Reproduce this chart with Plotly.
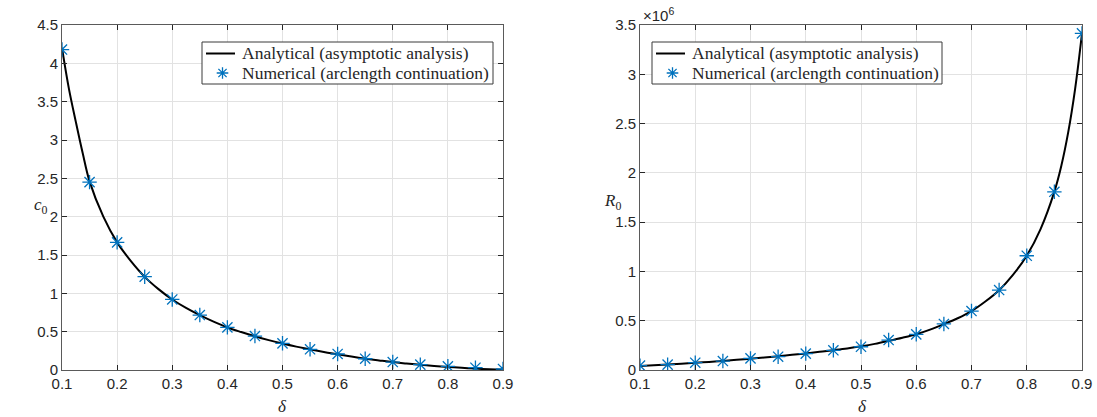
import plotly.graph_objects as go

# ---------------- data ----------------
delta_num = [0.10, 0.15, 0.20, 0.25, 0.30, 0.35, 0.40, 0.45, 0.50,
             0.55, 0.60, 0.65, 0.70, 0.75, 0.80, 0.85, 0.90]
c0_num = [4.18, 2.45, 1.665, 1.217, 0.92, 0.717, 0.556, 0.443, 0.348,
          0.27, 0.209, 0.147, 0.104, 0.07, 0.048, 0.03, 0.013]
R0_num = [44000, 54000, 74000, 91000, 118000, 135000, 166000, 200000, 236000,
          304000, 362000, 467000, 598000, 811000, 1159000, 1808000, 3415000]

delta_c0_curve = [0.1, 0.1125, 0.125, 0.1375, 0.15, 0.175, 0.2, 0.225, 0.25, 0.275,
                  0.3, 0.325, 0.35, 0.375, 0.4, 0.425, 0.45, 0.475, 0.5, 0.525,
                  0.55, 0.575, 0.6, 0.625, 0.65, 0.675, 0.7, 0.725, 0.75, 0.775,
                  0.8, 0.825, 0.85, 0.875, 0.9]
c0_curve = [4.2, 3.67, 3.24, 2.83, 2.46, 2.0, 1.665, 1.42, 1.215, 1.055,
            0.92, 0.81, 0.715, 0.63, 0.555, 0.495, 0.44, 0.39, 0.345, 0.305,
            0.27, 0.235, 0.205, 0.175, 0.148, 0.125, 0.103, 0.085, 0.068, 0.053,
            0.04, 0.028, 0.018, 0.009, 0.002]

delta_R0_curve = [0.1, 0.125, 0.15, 0.175, 0.2, 0.225, 0.25, 0.275, 0.3, 0.325,
                  0.35, 0.375, 0.4, 0.425, 0.45, 0.475, 0.5, 0.525, 0.55, 0.575,
                  0.6, 0.625, 0.65, 0.675, 0.7, 0.725, 0.75, 0.775, 0.8, 0.825,
                  0.85, 0.8625, 0.875, 0.8875, 0.9]
R0_curve = [40000, 48000, 55000, 64000, 73000, 82000, 92000, 103000, 115000, 127000,
            140000, 154000, 168000, 184000, 201000, 219000, 240000, 265000, 295000, 327000,
            363000, 410000, 465000, 525000, 598000, 695000, 810000, 965000, 1160000, 1430000,
            1810000, 2070000, 2410000, 2850000, 3415000]

x_ticks = [0.1, 0.2, 0.3, 0.4, 0.5, 0.6, 0.7, 0.8, 0.9]
x_ticktext = ["0.1", "0.2", "0.3", "0.4", "0.5", "0.6", "0.7", "0.8", "0.9"]
c0_ticks = [0, 0.5, 1, 1.5, 2, 2.5, 3, 3.5, 4, 4.5]
c0_ticktext = ["0", "0.5", "1", "1.5", "2", "2.5", "3", "3.5", "4", "4.5"]
R0_ticks = [0, 500000, 1000000, 1500000, 2000000, 2500000, 3000000, 3500000]
R0_ticktext = ["0", "0.5", "1", "1.5", "2", "2.5", "3", "3.5"]

legend_names = ["Analytical (asymptotic analysis)", "Numerical (arclength continuation)"]

# ---------------- styling ----------------
W, H = 1097, 417
BLUE = "#0072BD"
AX = "#262626"
GRID = "#e2e2e2"
SANS = "Liberation Sans, Arial, sans-serif"
SERIF = "Liberation Serif, Times New Roman, serif"


def fx(px):
    return px / W


def fy(py):
    return 1 - py / H


yb, yt = fy(370), fy(25)
dom_left = [fx(62), fx(503)]
dom_right = [fx(640), fx(1082)]

fig = go.Figure()

marker = dict(symbol="asterisk-open", size=12, color=BLUE,
              line=dict(color=BLUE, width=1.3))

fig.add_trace(go.Scatter(x=delta_c0_curve, y=c0_curve, mode="lines",
                         line=dict(color="black", width=2, shape="spline"),
                         name=legend_names[0], xaxis="x", yaxis="y"))
fig.add_trace(go.Scatter(x=delta_num, y=c0_num, mode="markers", marker=marker,
                         name=legend_names[1], xaxis="x", yaxis="y"))
fig.add_trace(go.Scatter(x=delta_R0_curve, y=R0_curve, mode="lines",
                         line=dict(color="black", width=2, shape="spline"),
                         name=legend_names[0], xaxis="x2", yaxis="y2"))
fig.add_trace(go.Scatter(x=delta_num, y=R0_num, mode="markers", marker=marker,
                         name=legend_names[1], xaxis="x2", yaxis="y2"))

common_axis = dict(showline=True, linecolor="#5a5a5a", linewidth=1, mirror="ticks",
                   ticks="inside", ticklen=5, tickcolor=AX, tickwidth=1,
                   showgrid=True, gridcolor=GRID, gridwidth=1, zeroline=False,
                   automargin=False,
                   tickfont=dict(family=SANS, size=15, color=AX))

fig.update_layout(
    width=W, height=H, autosize=False,
    margin=dict(l=0, r=0, t=0, b=0, pad=0, autoexpand=False),
    paper_bgcolor="white", plot_bgcolor="white",
    showlegend=False,
    xaxis=dict(domain=dom_left, anchor="y", range=[0.1, 0.9],
               tickvals=x_ticks, ticktext=x_ticktext, **common_axis),
    yaxis=dict(domain=[yb, yt], anchor="x", range=[0, 4.5],
               tickvals=c0_ticks, ticktext=c0_ticktext, **common_axis),
    xaxis2=dict(domain=dom_right, anchor="y2", range=[0.1, 0.9],
                tickvals=x_ticks, ticktext=x_ticktext, **common_axis),
    yaxis2=dict(domain=[yb, yt], anchor="x2", range=[0, 3500000],
                tickvals=R0_ticks, ticktext=R0_ticktext, **common_axis),
)

# ---------------- legends (drawn as boxes, glyphs and text) ----------------
def add_legend(left, right, top, bottom):
    fig.add_shape(type="rect", xref="paper", yref="paper",
                  x0=fx(left), x1=fx(right), y0=fy(bottom), y1=fy(top),
                  fillcolor="white", line=dict(color="#3a3a3a", width=1),
                  layer="above")
    r1 = top + 11.5
    r2 = top + 31
    # line sample
    fig.add_shape(type="line", xref="paper", yref="paper",
                  x0=fx(left + 4), x1=fx(left + 33), y0=fy(r1), y1=fy(r1),
                  line=dict(color="black", width=2), layer="above")
    # asterisk sample
    cx, cy, r = left + 20.5, r2, 5.8
    d = r * 0.7071
    path = (f"M {fx(cx - r)},{fy(cy)} L {fx(cx + r)},{fy(cy)} "
            f"M {fx(cx)},{fy(cy - r)} L {fx(cx)},{fy(cy + r)} "
            f"M {fx(cx - d)},{fy(cy - d)} L {fx(cx + d)},{fy(cy + d)} "
            f"M {fx(cx - d)},{fy(cy + d)} L {fx(cx + d)},{fy(cy - d)}")
    fig.add_shape(type="path", xref="paper", yref="paper", path=path,
                  line=dict(color=BLUE, width=1.3), layer="above")
    for name, ry in zip(legend_names, [r1, r2]):
        fig.add_annotation(xref="paper", yref="paper", x=fx(left + 38), y=fy(ry),
                           xanchor="left", yanchor="middle", showarrow=False,
                           text=name, font=dict(family=SERIF, size=17.5, color=AX))


add_legend(202, 493, 42, 84)
add_legend(652, 942, 42, 84)

annots = [
    dict(x=fx(282), y=fy(406), text="<i>δ</i>"),
    dict(x=fx(862), y=fy(406), text="<i>δ</i>"),
    dict(x=fx(41), y=fy(206), text="<i>c</i><sub>0</sub>"),
    dict(x=fx(612), y=fy(202), text="<i>R</i><sub>0</sub>"),
]
for a in annots:
    fig.add_annotation(xref="paper", yref="paper", showarrow=False,
                       xanchor="center", yanchor="middle",
                       font=dict(family=SERIF, size=17, color=AX), **a)

fig.add_annotation(xref="paper", yref="paper", x=fx(641), y=fy(14),
                   xanchor="left", yanchor="middle", showarrow=False,
                   text="×10<sup>6</sup>",
                   font=dict(family=SANS, size=15, color=AX))

fig.write_html("out.html")
